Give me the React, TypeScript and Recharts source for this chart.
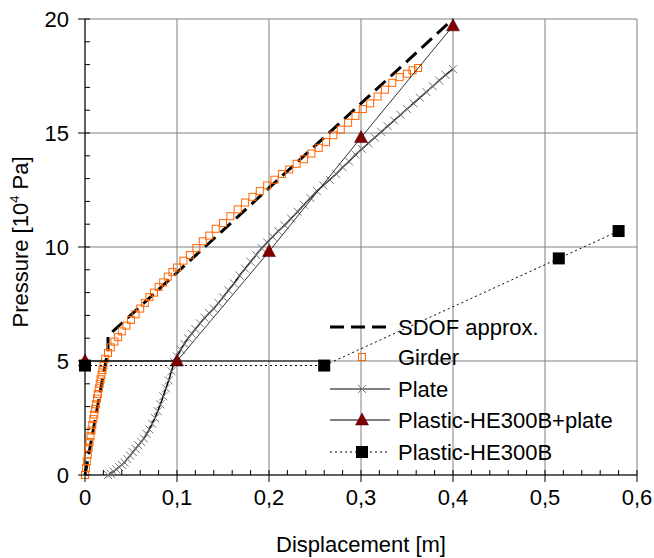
import React from "react";
import { ScatterChart, Scatter, XAxis, YAxis, CartesianGrid, Legend } from "recharts";

const FONT = "'Liberation Sans', Arial, sans-serif";
const FS = 22;

const xMajorTicks = [0, 0.1, 0.2, 0.3, 0.4, 0.5, 0.6];
const yMajorTicks = [0, 5, 10, 15, 20];
const xMinorTicks = Array.from({ length: 31 }, (_, i) => Number((i * 0.02).toFixed(2)));
const yMinorTicks = Array.from({ length: 21 }, (_, i) => i);

const sdofApprox = [
  { x: 0, y: 0 },
  { x: 0.025, y: 5.5 },
  { x: 0.025, y: 6.1 },
  { x: 0.4, y: 20 },
];

const girder = [
  { x: 0, y: 0 }, { x: 0.001, y: 0.3 }, { x: 0.002, y: 0.6 }, { x: 0.003, y: 0.9 },
  { x: 0.004, y: 1.2 }, { x: 0.005, y: 1.45 }, { x: 0.006, y: 1.7 }, { x: 0.007, y: 1.95 },
  { x: 0.008, y: 2.2 }, { x: 0.009, y: 2.45 }, { x: 0.01, y: 2.65 }, { x: 0.011, y: 2.9 },
  { x: 0.012, y: 3.1 }, { x: 0.013, y: 3.35 }, { x: 0.014, y: 3.55 }, { x: 0.015, y: 3.8 },
  { x: 0.016, y: 4.0 }, { x: 0.017, y: 4.2 }, { x: 0.018, y: 4.4 }, { x: 0.019, y: 4.6 },
  { x: 0.02, y: 4.8 }, { x: 0.022, y: 5.1 }, { x: 0.025, y: 5.35 }, { x: 0.028, y: 5.6 },
  { x: 0.032, y: 5.85 }, { x: 0.036, y: 6.05 }, { x: 0.04, y: 6.3 }, { x: 0.045, y: 6.55 },
  { x: 0.05, y: 6.8 }, { x: 0.055, y: 7.05 }, { x: 0.06, y: 7.3 }, { x: 0.065, y: 7.55 },
  { x: 0.07, y: 7.8 }, { x: 0.075, y: 8.0 }, { x: 0.08, y: 8.25 }, { x: 0.085, y: 8.45 },
  { x: 0.09, y: 8.7 }, { x: 0.095, y: 8.9 }, { x: 0.1, y: 9.1 }, { x: 0.107, y: 9.4 },
  { x: 0.114, y: 9.65 }, { x: 0.121, y: 9.95 }, { x: 0.128, y: 10.25 }, { x: 0.135, y: 10.5 },
  { x: 0.142, y: 10.8 }, { x: 0.15, y: 11.05 }, { x: 0.158, y: 11.35 }, { x: 0.166, y: 11.65 },
  { x: 0.174, y: 11.95 }, { x: 0.182, y: 12.2 }, { x: 0.19, y: 12.45 }, { x: 0.198, y: 12.7 },
  { x: 0.206, y: 12.95 }, { x: 0.214, y: 13.2 }, { x: 0.222, y: 13.4 }, { x: 0.23, y: 13.65 },
  { x: 0.238, y: 13.85 }, { x: 0.246, y: 14.1 }, { x: 0.254, y: 14.35 }, { x: 0.262, y: 14.6 },
  { x: 0.27, y: 14.9 }, { x: 0.278, y: 15.15 }, { x: 0.286, y: 15.45 }, { x: 0.294, y: 15.75 },
  { x: 0.302, y: 16.05 }, { x: 0.31, y: 16.3 }, { x: 0.318, y: 16.6 }, { x: 0.326, y: 16.9 },
  { x: 0.334, y: 17.2 }, { x: 0.342, y: 17.45 }, { x: 0.35, y: 17.6 }, { x: 0.356, y: 17.75 },
  { x: 0.362, y: 17.85 },
];

const plate = [
  { x: 0.025, y: 0 }, { x: 0.028, y: 0.05 }, { x: 0.031, y: 0.15 }, { x: 0.034, y: 0.25 },
  { x: 0.037, y: 0.35 }, { x: 0.04, y: 0.45 }, { x: 0.043, y: 0.55 }, { x: 0.046, y: 0.7 },
  { x: 0.049, y: 0.85 }, { x: 0.052, y: 1.0 }, { x: 0.055, y: 1.15 }, { x: 0.058, y: 1.3 },
  { x: 0.061, y: 1.45 }, { x: 0.064, y: 1.6 }, { x: 0.067, y: 1.8 }, { x: 0.07, y: 2.0 },
  { x: 0.073, y: 2.25 }, { x: 0.076, y: 2.5 }, { x: 0.079, y: 2.8 }, { x: 0.082, y: 3.1 },
  { x: 0.085, y: 3.45 }, { x: 0.088, y: 3.8 }, { x: 0.091, y: 4.15 }, { x: 0.094, y: 4.55 },
  { x: 0.097, y: 4.95 }, { x: 0.1, y: 5.2 }, { x: 0.104, y: 5.5 }, { x: 0.108, y: 5.75 },
  { x: 0.112, y: 6.0 }, { x: 0.116, y: 6.2 }, { x: 0.12, y: 6.4 }, { x: 0.125, y: 6.65 },
  { x: 0.13, y: 6.9 }, { x: 0.135, y: 7.1 }, { x: 0.14, y: 7.3 }, { x: 0.145, y: 7.55 },
  { x: 0.15, y: 7.8 }, { x: 0.156, y: 8.1 }, { x: 0.162, y: 8.4 }, { x: 0.168, y: 8.75 },
  { x: 0.174, y: 9.05 }, { x: 0.18, y: 9.35 }, { x: 0.186, y: 9.65 }, { x: 0.192, y: 9.95 },
  { x: 0.198, y: 10.2 }, { x: 0.204, y: 10.45 }, { x: 0.21, y: 10.7 }, { x: 0.217, y: 10.95 },
  { x: 0.224, y: 11.25 }, { x: 0.231, y: 11.55 }, { x: 0.238, y: 11.85 }, { x: 0.245, y: 12.15 },
  { x: 0.252, y: 12.45 }, { x: 0.259, y: 12.7 }, { x: 0.266, y: 12.95 }, { x: 0.273, y: 13.2 },
  { x: 0.28, y: 13.5 }, { x: 0.287, y: 13.75 }, { x: 0.294, y: 14.05 }, { x: 0.301, y: 14.3 },
  { x: 0.308, y: 14.55 }, { x: 0.315, y: 14.8 }, { x: 0.322, y: 15.05 }, { x: 0.329, y: 15.3 },
  { x: 0.336, y: 15.55 }, { x: 0.343, y: 15.8 }, { x: 0.35, y: 16.05 }, { x: 0.357, y: 16.3 },
  { x: 0.364, y: 16.55 }, { x: 0.371, y: 16.8 }, { x: 0.378, y: 17.05 }, { x: 0.385, y: 17.3 },
  { x: 0.392, y: 17.55 }, { x: 0.4, y: 17.8 },
];

const plasticPlate = [
  { x: 0, y: 5 },
  { x: 0.1, y: 5 },
  { x: 0.2, y: 9.8 },
  { x: 0.3, y: 14.8 },
  { x: 0.4, y: 19.7 },
];

// plateau line at 5 that runs on to the second square
const plateau = [
  { x: 0, y: 5 },
  { x: 0.26, y: 5 },
];

const plastic = [
  { x: 0, y: 4.8 },
  { x: 0.26, y: 4.8 },
  { x: 0.515, y: 9.5 },
  { x: 0.58, y: 10.7 },
];

const noMark = () => <g />;

const girderMark = ({ cx, cy }: any) => (
  <rect x={cx - 3.5} y={cy - 3.5} width={7} height={7} fill="none" stroke="#ff6600" strokeWidth={1} />
);

const plateMark = ({ cx, cy }: any) => (
  <g stroke="#777" strokeWidth={1}>
    <line x1={cx - 4} y1={cy - 4} x2={cx + 4} y2={cy + 4} />
    <line x1={cx - 4} y1={cy + 4} x2={cx + 4} y2={cy - 4} />
  </g>
);

const triMark = ({ cx, cy }: any) => (
  <polygon
    points={`${cx},${cy - 7} ${cx + 6.5},${cy + 5} ${cx - 6.5},${cy + 5}`}
    fill="#800000"
    stroke="#400000"
    strokeWidth={0.5}
  />
);

const squareMark = ({ cx, cy }: any) => (
  <rect x={cx - 6} y={cy - 6} width={12} height={12} fill="#000" />
);

const series = [
  { name: "SDOF approx.", data: sdofApprox, line: { stroke: "#000", strokeWidth: 3, strokeDasharray: "14 7" }, shape: noMark, legend: true },
  { name: "Girder", data: girder, line: false, shape: girderMark, legend: true },
  { name: "Plate", data: plate, line: { stroke: "#000", strokeWidth: 1.5 }, shape: plateMark, legend: true },
  { name: "plateau", data: plateau, line: { stroke: "#000", strokeWidth: 1 }, shape: noMark, legend: false },
  { name: "Plastic-HE300B+plate", data: plasticPlate, line: { stroke: "#000", strokeWidth: 0.8 }, shape: triMark, legend: true },
  { name: "Plastic-HE300B", data: plastic, line: { stroke: "#000", strokeWidth: 1, strokeDasharray: "2 3" }, shape: squareMark, legend: true },
];

const isMajor = (v: number, step: number) => Math.abs(v / step - Math.round(v / step)) < 1e-6;

const XTick = (props: any) => {
  const { x, y, payload } = props;
  const v = payload.value;
  const major = isMajor(v, 0.1);
  return (
    <g>
      <line x1={x} x2={x} y1={y - 5} y2={major ? y + 7 : y} stroke="#000" />
      {major && (
        <text x={x} y={y + 30} textAnchor="middle" fontSize={FS} fontFamily={FONT} fill="#000">
          {String(Number(v.toFixed(1))).replace(".", ",")}
        </text>
      )}
    </g>
  );
};

const YTick = (props: any) => {
  const { x, y, payload } = props;
  const v = payload.value;
  const major = isMajor(v, 5);
  return (
    <g>
      <line x1={major ? x - 7 : x} x2={x + 5} y1={y} y2={y} stroke="#000" />
      {major && (
        <text x={x - 16} y={y + 8} textAnchor="end" fontSize={FS} fontFamily={FONT} fill="#000">
          {v}
        </text>
      )}
    </g>
  );
};

const XTitle = (props: any) => {
  const { viewBox } = props;
  return (
    <text x={viewBox.x + viewBox.width / 2} y={552} textAnchor="middle" fontSize={FS} fontFamily={FONT} fill="#000">
      Displacement [m]
    </text>
  );
};

const YTitle = () => (
  <text transform="translate(28,242) rotate(-90)" textAnchor="middle" fontSize={FS} fontFamily={FONT} fill="#000">
    Pressure [10
    <tspan dy={-9} fontSize={13}>4</tspan>
    <tspan dy={9}> Pa]</tspan>
  </text>
);

const rowY = [17, 47, 79, 110, 142];

const LegendBox = () => {
  const rows = series.filter((s) => s.legend);
  return (
    <svg width={330} height={160} style={{ overflow: "visible" }}>
      {rows.map((s, i) => {
        const cy = rowY[i];
        const line = s.line as any;
        return (
          <g key={s.name}>
            {line && <line x1={5} x2={65} y1={cy} y2={cy} {...line} strokeWidth={line.strokeWidth > 2 ? 3 : 1} />}
            {s.shape({ cx: 37, cy })}
            <text x={73} y={cy + 8} fontSize={FS} fontFamily={FONT} fill="#000">
              {s.name}
            </text>
          </g>
        );
      })}
    </svg>
  );
};

export default function App() {
  return (
    <div style={{ position: "absolute", left: 0, top: 0, background: "#fff" }}>
      <ScatterChart width={654} height={558} margin={{ top: 19, right: 17, bottom: 43, left: 25 }}>
        <CartesianGrid
          stroke="#808080"
          strokeWidth={1}
          horizontalValues={yMajorTicks}
          verticalValues={xMajorTicks}
        />
        <XAxis
          type="number"
          dataKey="x"
          domain={[0, 0.6]}
          ticks={xMinorTicks}
          interval={0}
          height={40}
          tickSize={0}
          tickMargin={0}
          tickLine={false}
          axisLine={{ stroke: "#000" }}
          tick={<XTick />}
          label={<XTitle />}
        />
        <YAxis
          type="number"
          dataKey="y"
          domain={[0, 20]}
          ticks={yMinorTicks}
          interval={0}
          width={60}
          tickSize={0}
          tickMargin={0}
          tickLine={false}
          axisLine={{ stroke: "#000" }}
          tick={<YTick />}
          label={<YTitle />}
        />
        <Legend
          layout="vertical"
          align="center"
          verticalAlign="middle"
          wrapperStyle={{ left: 325, top: 310, width: 330, height: 160 }}
          content={<LegendBox />}
        />
        {series.map((s) => (
          <Scatter
            key={s.name}
            name={s.name}
            data={s.data}
            line={s.line as any}
            lineJointType="linear"
            shape={s.shape}
            fill="#000"
            isAnimationActive={false}
          />
        ))}
      </ScatterChart>
    </div>
  );
}
